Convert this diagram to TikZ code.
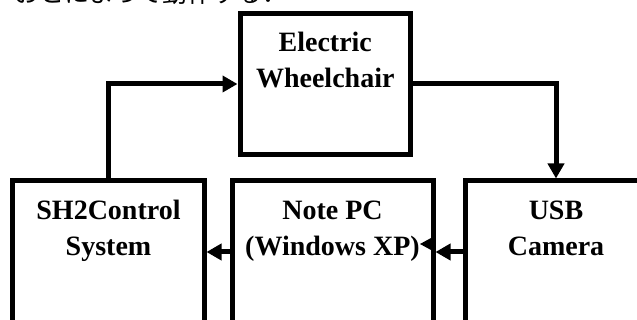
\documentclass[tikz,border=0pt]{standalone}
\usepackage{fontspec}
\setmainfont{Liberation Serif}
\newfontfamily\cjk{Noto Sans CJK JP}
\usetikzlibrary{arrows.meta}
\begin{document}
\begin{tikzpicture}[x=1pt,y=-1pt,
  box/.style={draw,line width=5pt,rectangle,inner sep=0pt},
  lbl/.style={anchor=base,inner sep=0pt,font=\fontsize{28}{36}\selectfont\bfseries},
  arr/.style={line width=5pt,-{Triangle[length=15pt,width=16pt]}}]
\useasboundingbox (0,0) rectangle (637,320);
\clip (0,0) rectangle (637,320);
\node[anchor=base west,inner sep=0pt,font=\fontsize{25}{30}\selectfont\cjk] (jp) at (14,3) {おとによって動作する．};
\node[box,minimum width=170.5pt,minimum height=141pt] (top) at (325.25,84) {};
\node[box,minimum width=191.5pt,minimum height=159pt] (sh) at (108.25,260.5) {};
\node[box,minimum width=201pt,minimum height=159pt] (pc) at (332.5,260.5) {};
\node[box,minimum width=181pt,minimum height=159pt] (usb) at (556,260.5) {};
\node[lbl] (toptxt) at (325.25,52) {\begin{tabular}[t]{@{}c@{}}Electric\\Wheelchair\end{tabular}};
\node[lbl] (shtxt) at (108.5,220) {\begin{tabular}[t]{@{}c@{}}SH2Control\\System\end{tabular}};
\node[lbl] (pctxt) at (332.5,220) {\begin{tabular}[t]{@{}c@{}}Note PC\\(Windows XP)\end{tabular}};
\node[lbl] (usbtxt) at (556,220) {\begin{tabular}[t]{@{}c@{}}USB\\Camera\end{tabular}};
\coordinate (ay) at (0,252);
\draw[arr] (sh.north) |- (top.west);
\draw[arr] (top.east) -| (usb.north);
\draw[arr] (usb.west |- ay) -- (pc.east |- ay);
\draw[arr] (pc.west |- ay) -- (sh.east |- ay);
\fill (420,244) -- (431,238) -- (431,250) -- cycle;
\end{tikzpicture}
\end{document}
